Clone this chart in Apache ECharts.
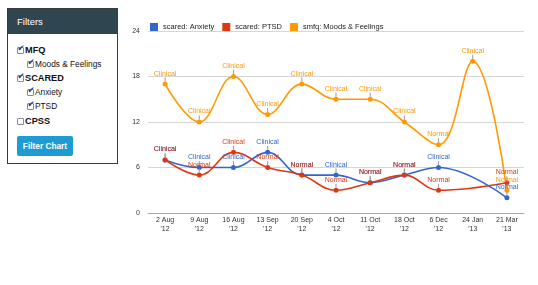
<!DOCTYPE html>
<html>
<head>
<meta charset="utf-8">
<script src="https://cdn.jsdelivr.net/npm/echarts@6/dist/echarts.min.js"></script>
<style>
  html, body { margin: 0; padding: 0; background: #fff; }
  body { width: 538px; height: 285px; position: relative; overflow: hidden; font-family: "Liberation Sans", Arial, sans-serif; }
  #chart { position: absolute; left: 0; top: 0; width: 538px; height: 285px; }
  #panel { position: absolute; left: 7px; top: 8px; width: 109px; height: 154px; border: 1px solid #3a3a3a; background: #fff; z-index: 2; }
  #panel .hdr { position: absolute; left: 0; top: 0; width: 109px; height: 25px; background: #2f4550; color: #fff; font-size: 9.5px; line-height: 25px; text-indent: 9px; }
  .item { position: absolute; font-size: 8.3px; color: #111; white-space: nowrap; line-height: 10px; }
  .item.b { font-weight: bold; font-size: 9.2px; }
  .cb { display: inline-block; width: 5px; height: 5px; border: 1px solid #8a8a8a; background: #fff; vertical-align: -0.5px; margin-right: 1px; position: relative; border-radius: 1px; }
  .cb.on::after { content: "\2714"; position: absolute; left: -0.5px; top: -5px; font-size: 8.5px; color: #23408a; font-family: "DejaVu Sans", sans-serif; }
  #btn { position: absolute; left: 9px; top: 127px; width: 56px; height: 20px; background: #1f9bd3; border-radius: 2px; color: #fff; font-size: 8.3px; font-weight: bold; line-height: 20px; text-align: center; }
</style>
</head>
<body>
<div id="chart"></div>
<div id="panel">
  <div class="hdr">Filters</div>
  <div class="item b" style="left:9px;top:36px;"><span class="cb on"></span>MFQ</div>
  <div class="item" style="left:19px;top:50px;"><span class="cb on"></span>Moods &amp; Feelings</div>
  <div class="item b" style="left:9px;top:64px;"><span class="cb on"></span>SCARED</div>
  <div class="item" style="left:19px;top:78px;"><span class="cb on"></span>Anxiety</div>
  <div class="item" style="left:19px;top:92px;"><span class="cb on"></span>PTSD</div>
  <div class="item b" style="left:9px;top:107px;"><span class="cb"></span>CPSS</div>
  <div id="btn">Filter Chart</div>
</div>
<script>
const categories = ["2 Aug\n'12", "9 Aug\n'12", "16 Aug\n'12", "13 Sep\n'12", "20 Sep\n'12", "4 Oct\n'12", "11 Oct\n'12", "18 Oct\n'12", "6 Dec\n'12", "24 Jan\n'13", "21 Mar\n'13"];
const seriesNames = ["scared: Anxiety", "scared: PTSD", "smfq: Moods & Feelings"];
const anxiety = [7, 6, 6, 8, 5, 5, 4, 5, 6, null, 2];
const anxietyStatus = ["Clinical", "Clinical", "Clinical", "Clinical", "Normal", "Clinical", "Normal", "Normal", "Clinical", null, "Normal"];
const ptsd = [7, 5, 8, 6, 5, 3, 4, 5, 3, null, 4];
const ptsdStatus = ["Clinical", "Normal", "Clinical", "Normal", "Normal", "Normal", "Normal", "Normal", "Normal", null, "Normal"];
const moods = [17, 12, 18, 13, 17, 15, 15, 12, 9, 20, 3];
const moodsStatus = ["Clinical", "Clinical", "Clinical", "Clinical", "Clinical", "Clinical", "Clinical", "Clinical", "Normal", "Clinical", "Normal"];
const yMin = 0, yMax = 24, yStep = 6;

const colors = ["#3366cc", "#dc3912", "#ff9900"];
const FONT = "'Liberation Sans', Arial, sans-serif";

function makeSeries(name, values, status, color) {
  return {
    name: name,
    type: 'line',
    smooth: 0.4,
    connectNulls: true,
    symbol: 'circle',
    symbolSize: 5,
    showSymbol: true,
    lineStyle: { width: 1.6, color: color },
    itemStyle: { color: color },
    data: values.map((v, i) => ({ value: v, status: status[i] })),
    label: {
      show: true,
      position: 'top',
      distance: 0,
      formatter: p => (p.data && p.data.status) ? '{t|' + p.data.status + '}\n{s|}' : '',
      rich: {
        t: { fontSize: 7, fontFamily: FONT, color: color, lineHeight: 8, align: 'center' },
        s: { width: 1, height: 4, backgroundColor: '#9a9a9a', align: 'center' }
      }
    },
    emphasis: { disabled: true }
  };
}

const chart = echarts.init(document.getElementById('chart'), null, { renderer: 'canvas' });
chart.setOption({
  animation: false,
  color: colors,
  textStyle: { fontFamily: FONT },
  legend: {
    left: 145, top: 18,
    itemWidth: 8, itemHeight: 8, itemGap: 8,
    icon: 'rect',
    data: seriesNames,
    textStyle: { fontSize: 7.5, color: '#222', fontFamily: FONT }
  },
  grid: { left: 148, right: 14, top: 31, bottom: 72, containLabel: false },
  xAxis: {
    type: 'category',
    data: categories,
    boundaryGap: true,
    axisTick: { show: false },
    axisLine: { show: true, lineStyle: { color: '#aaa', width: 1 } },
    axisLabel: { fontSize: 7, lineHeight: 9, margin: 3, color: '#333', fontFamily: FONT, interval: 0 }
  },
  yAxis: {
    type: 'value',
    min: yMin, max: yMax, interval: yStep,
    axisLine: { show: false },
    axisTick: { show: false },
    splitLine: { lineStyle: { color: '#d6d6d6', width: 1 } },
    axisLabel: { fontSize: 7, margin: 8, color: '#333', fontFamily: FONT }
  },
  series: [
    makeSeries(seriesNames[0], anxiety, anxietyStatus, colors[0]),
    makeSeries(seriesNames[1], ptsd, ptsdStatus, colors[1]),
    makeSeries(seriesNames[2], moods, moodsStatus, colors[2])
  ]
});
</script>
</body>
</html>
